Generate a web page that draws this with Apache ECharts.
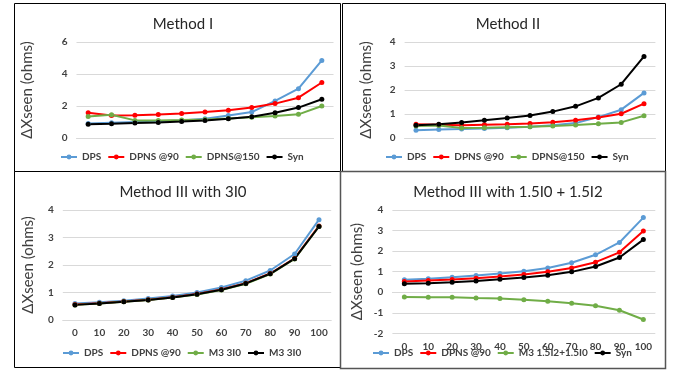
<!DOCTYPE html>
<html>
<head>
<meta charset="utf-8">
<script src="https://cdn.jsdelivr.net/npm/echarts@6/dist/echarts.min.js"></script>
<style>
  html, body { margin: 0; padding: 0; background: #fff; }
  #chart { width: 683px; height: 370px; }
</style>
</head>
<body>
<div id="chart"></div>
<script>
// 4 panels: ΔXseen vs fault location (%), one per method
const categories = ['0', '10', '20', '30', '40', '50', '60', '70', '80', '90', '100'];

// Method I
const m1DPS    = [0.90, 0.95, 1.00, 1.05, 1.10, 1.20, 1.40, 1.62, 2.32, 3.08, 4.85];
const m1DPNS90 = [1.58, 1.40, 1.42, 1.47, 1.53, 1.62, 1.73, 1.90, 2.15, 2.52, 3.47];
const m1DPNS150 = [1.35, 1.45, 1.10, 1.10, 1.12, 1.15, 1.22, 1.30, 1.38, 1.48, 2.00];
const m1Syn    = [0.86, 0.89, 0.93, 0.97, 1.03, 1.10, 1.20, 1.33, 1.58, 1.90, 2.42];

// Method II
const m2DPS    = [0.32, 0.35, 0.37, 0.40, 0.43, 0.47, 0.53, 0.62, 0.87, 1.18, 1.88];
const m2DPNS90 = [0.57, 0.55, 0.53, 0.55, 0.57, 0.60, 0.66, 0.74, 0.85, 1.01, 1.43];
const m2DPNS150 = [0.50, 0.52, 0.42, 0.43, 0.45, 0.47, 0.50, 0.54, 0.59, 0.65, 0.93];
const m2Syn    = [0.53, 0.57, 0.65, 0.74, 0.83, 0.94, 1.10, 1.32, 1.67, 2.24, 3.40];

// Method III with 3I0
const m3DPS    = [0.60, 0.65, 0.70, 0.78, 0.87, 1.00, 1.18, 1.43, 1.80, 2.40, 3.65];
const m3DPNS90 = [0.56, 0.61, 0.67, 0.74, 0.83, 0.95, 1.11, 1.34, 1.69, 2.24, 3.42];
const m3M3a    = [0.55, 0.60, 0.66, 0.73, 0.82, 0.93, 1.09, 1.32, 1.67, 2.22, 3.40];
const m3M3b    = [0.55, 0.60, 0.66, 0.73, 0.82, 0.94, 1.10, 1.33, 1.68, 2.23, 3.40];

// Method III with 1.5I0 + 1.5I2
const m4DPS    = [0.60, 0.66, 0.73, 0.81, 0.91, 1.02, 1.18, 1.43, 1.82, 2.42, 3.63];
const m4DPNS90 = [0.52, 0.57, 0.62, 0.68, 0.76, 0.86, 0.99, 1.18, 1.46, 1.94, 2.98];
const m4M3     = [-0.23, -0.24, -0.24, -0.28, -0.31, -0.37, -0.44, -0.54, -0.66, -0.88, -1.33];
const m4Syn    = [0.41, 0.44, 0.49, 0.55, 0.63, 0.71, 0.83, 0.99, 1.25, 1.69, 2.56];

const FONT = 'Lato, "Open Sans", sans-serif';
const BLUE = '#5B9BD5', RED = '#FF0000', GREEN = '#70AD47', BLACK = '#000000';
const GRIDLINE = '#D9D9D9';

const chart = echarts.init(document.getElementById('chart'), null, { renderer: 'canvas' });

// series names carry a "|panel" suffix so each legend only lists its own panel
function line(name, data, color, idx) {
  return {
    name: name + '|' + idx, type: 'line', data,
    xAxisIndex: idx, yAxisIndex: idx,
    symbol: 'circle', symbolSize: 5,
    lineStyle: { color, width: 2 },
    itemStyle: { color },
    emphasis: { disabled: true },
    animation: false,
  };
}

function xAx(idx, showLabel) {
  return {
    type: 'category', gridIndex: idx, data: categories,
    axisLine: { show: true, onZero: true, lineStyle: { color: GRIDLINE } },
    axisTick: { show: false },
    axisLabel: { show: showLabel, color: '#404040', fontSize: 10, fontWeight: 'bold', fontFamily: FONT, margin: 8 },
    splitLine: { show: false },
  };
}

function yAx(idx, min, max, interval, nameGap) {
  return {
    type: 'value', gridIndex: idx, min, max, interval,
    name: 'ΔXseen (ohms)', nameLocation: 'middle', nameGap,
    nameTextStyle: { color: '#404040', fontSize: 15, fontFamily: FONT },
    axisLine: { show: false },
    axisTick: { show: false },
    axisLabel: { color: '#404040', fontSize: 10, fontWeight: 'bold', fontFamily: FONT, margin: 9 },
    splitLine: { lineStyle: { color: GRIDLINE, width: 1 } },
  };
}

function legend(names, idx, left, top) {
  return {
    data: names.map(n => n + '|' + idx), left, top,
    width: 300, orient: 'horizontal',
    itemWidth: 16, itemHeight: 6, itemGap: 6,
    padding: 0,
    textStyle: { color: '#404040', fontSize: 10, fontWeight: 'bold', fontFamily: FONT, overflow: 'none' },
    formatter: n => n.split('|')[0].replace(/ #\d$/, ''),
    selectedMode: false,
  };
}

const titleStyle = { color: '#262626', fontSize: 15, fontWeight: 'normal', fontFamily: FONT };

chart.setOption({
  backgroundColor: '#fff',
  animation: false,
  title: [
    { text: 'Method I', left: 178, top: 12, textAlign: 'center', textStyle: titleStyle },
    { text: 'Method II', left: 503, top: 12, textAlign: 'center', textStyle: titleStyle },
    { text: 'Method III with 3I0', left: 178, top: 180, textAlign: 'center', textStyle: titleStyle },
    { text: 'Method III with 1.5I0 + 1.5I2', left: 503, top: 180, textAlign: 'center', textStyle: titleStyle },
  ],
  legend: [
    legend(['DPS', 'DPNS @90', 'DPNS@150', 'Syn'], 0, 60, 152),
    legend(['DPS', 'DPNS @90', 'DPNS@150', 'Syn'], 1, 385, 152),
    legend(['DPS', 'DPNS @90', 'M3 3I0 #1', 'M3 3I0 #2'], 2, 62, 348),
    legend(['DPS', 'DPNS @90', 'M3 1.5I2+1.5I0', 'Syn'], 3, 372, 348),
  ],
  grid: [
    { left: 76.5, right: 349.5, top: 42, bottom: 232 },
    { left: 404.6, right: 27.6, top: 42, bottom: 232 },
    { left: 62.8, right: 351.8, top: 210, bottom: 50 },
    { left: 392.4, right: 27.7, top: 210, bottom: 36.7 },
  ],
  xAxis: [xAx(0, false), xAx(1, false), xAx(2, true), xAx(3, true)],
  yAxis: [
    yAx(0, 0, 6, 2, 42),
    yAx(1, 0, 4, 1, 31),
    yAx(2, 0, 4, 1, 27),
    yAx(3, -2, 4, 1, 28),
  ],
  series: [
    line('DPS', m1DPS, BLUE, 0),
    line('DPNS @90', m1DPNS90, RED, 0),
    line('DPNS@150', m1DPNS150, GREEN, 0),
    line('Syn', m1Syn, BLACK, 0),

    line('DPS', m2DPS, BLUE, 1),
    line('DPNS @90', m2DPNS90, RED, 1),
    line('DPNS@150', m2DPNS150, GREEN, 1),
    line('Syn', m2Syn, BLACK, 1),

    line('DPS', m3DPS, BLUE, 2),
    line('DPNS @90', m3DPNS90, RED, 2),
    line('M3 3I0 #1', m3M3a, GREEN, 2),
    line('M3 3I0 #2', m3M3b, BLACK, 2),

    line('DPS', m4DPS, BLUE, 3),
    line('DPNS @90', m4DPNS90, RED, 3),
    line('M3 1.5I2+1.5I0', m4M3, GREEN, 3),
    line('Syn', m4Syn, BLACK, 3),
  ],
  // panel frames
  graphic: [
    { type: 'rect', shape: { x: 14.5, y: 3.5, width: 326, height: 168 }, style: { fill: null, stroke: '#000', lineWidth: 1 }, silent: true },
    { type: 'rect', shape: { x: 342.5, y: 3.5, width: 323, height: 168 }, style: { fill: null, stroke: '#000', lineWidth: 1 }, silent: true },
    { type: 'rect', shape: { x: 14.5, y: 171.5, width: 326, height: 196 }, style: { fill: null, stroke: '#000', lineWidth: 1 }, silent: true },
    { type: 'rect', shape: { x: 340.5, y: 171.5, width: 325, height: 197 }, style: { fill: null, stroke: '#555', lineWidth: 1.5 }, silent: true },
  ],
});
</script>
</body>
</html>
